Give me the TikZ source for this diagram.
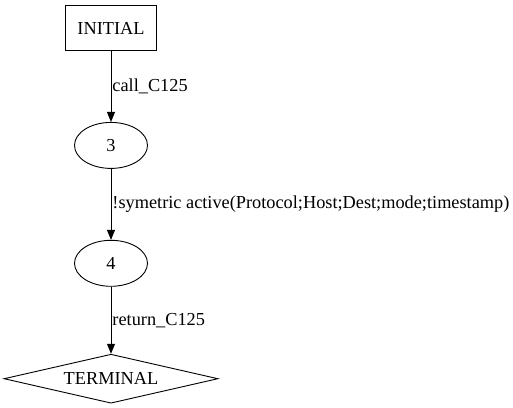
\documentclass[tikz,border=0pt]{standalone}
\usepackage{fontspec}
\setmainfont{Liberation Serif}
\usetikzlibrary{shapes.geometric, arrows.meta, positioning}
\tikzstyle{startstate} = [rectangle, minimum width=91pt, minimum height=45pt, line width=0.9pt, draw=black]
\tikzstyle{state} = [ellipse, minimum width=73pt, minimum height=46pt, line width=0.9pt, draw=black]
\tikzstyle{endstate} = [diamond, aspect=4.4, minimum width=214pt, minimum height=49pt, inner sep=0pt, line width=0.9pt, draw=black]
\tikzstyle{arrow} = [line width=0.9pt, -{Triangle[length=10pt, width=8pt]}]
\tikzstyle{elabel} = [anchor=west, inner sep=1pt]

\begin{document}
\begin{tikzpicture}[node distance=70pt, every node/.style={font=\fontsize{18.3}{21}\selectfont}]
    \useasboundingbox (0pt,0pt) rectangle (513pt,-407pt);
    \node (initial) [startstate] at (111pt,-28pt) {INITIAL};
    \node (s3) [state, below=71pt of initial] {3};
    \node (s4) [state, below=71pt of s3] {4};
    \node (terminal) [endstate, below=67pt of s4] {TERMINAL};

    \draw [arrow] (initial) -- node[elabel] {call\_C125} (s3);
    \draw [arrow] (s3) -- node[elabel] {!symetric active(Protocol;Host;Dest;mode;timestamp)} (s4);
    \draw [arrow] (s4) -- node[elabel] {return\_C125} (terminal);
\end{tikzpicture}
\end{document}
